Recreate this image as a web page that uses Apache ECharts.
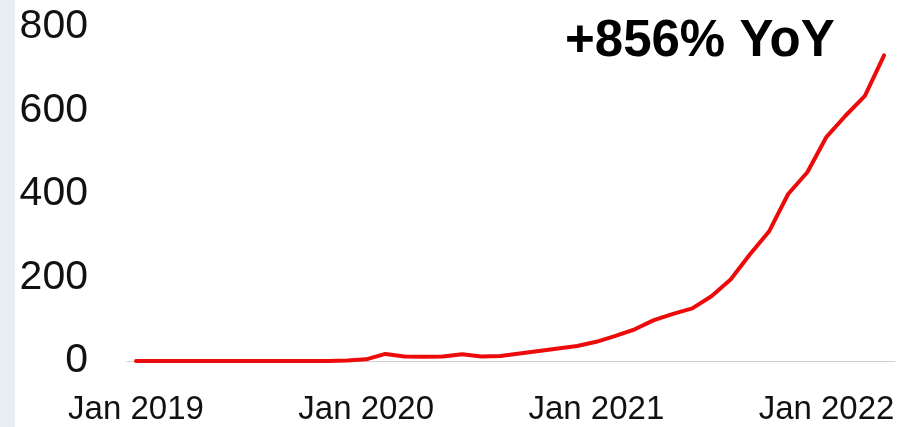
<!DOCTYPE html>
<html>
<head>
<meta charset="utf-8">
<script src="https://cdn.jsdelivr.net/npm/echarts@6/dist/echarts.min.js"></script>
<style>
  html, body { margin: 0; padding: 0; background: #fff; }
  #chart { width: 907px; height: 427px; }
</style>
</head>
<body>
<div id="chart"></div>
<script>
// monthly, Jan 2019 .. Apr 2022
const months = [
  'Jan 2019','Feb 2019','Mar 2019','Apr 2019','May 2019','Jun 2019','Jul 2019','Aug 2019','Sep 2019','Oct 2019','Nov 2019','Dec 2019',
  'Jan 2020','Feb 2020','Mar 2020','Apr 2020','May 2020','Jun 2020','Jul 2020','Aug 2020','Sep 2020','Oct 2020','Nov 2020','Dec 2020',
  'Jan 2021','Feb 2021','Mar 2021','Apr 2021','May 2021','Jun 2021','Jul 2021','Aug 2021','Sep 2021','Oct 2021','Nov 2021','Dec 2021',
  'Jan 2022','Feb 2022','Mar 2022','Apr 2022'
];
const values = [
  0, 0, 0, 0, 0, 0, 0, 0, 0, 0, 0, 1,
  4, 17, 11, 10, 11, 16, 11, 12, 18, 24, 30, 36,
  46, 60, 76, 98, 113, 126, 155, 195, 255, 310, 400, 452,
  537, 588, 635, 732
];
const yTicks = [0, 200, 400, 600, 800];
const xTickIdx = [0, 12, 24, 36];
const annotation = '+856% YoY';

const chart = echarts.init(document.getElementById('chart'));

let option = {
  animation: false,
  backgroundColor: '#fff',
  grid: { left: 127, right: 12, top: 27, bottom: 66 },
  xAxis: {
    type: 'value',
    min: -0.47,
    max: 39.57,
    axisLine: { show: true, lineStyle: { color: '#cfcfcf', width: 1 } },
    axisTick: { show: false },
    splitLine: { show: false },
    axisLabel: {
      customValues: xTickIdx,
      formatter: v => months[v],
      color: '#111',
      fontSize: 33,
      fontFamily: 'Liberation Sans, Arial, sans-serif',
      margin: 32
    }
  },
  yAxis: {
    type: 'value',
    min: 0,
    max: 800,
    interval: 200,
    axisLine: { show: false },
    axisTick: { show: false },
    splitLine: { show: false },
    axisLabel: {
      customValues: yTicks,
      color: '#111',
      fontSize: 41,
      fontFamily: 'Liberation Sans, Arial, sans-serif',
      margin: 39
    }
  },
  graphic: [
    { type: 'rect', left: 0, top: 0, shape: { width: 15, height: 427 }, style: { fill: '#e9eef3' }, z: -1 },
    {
      type: 'text', left: 565, top: 16,
      style: { text: annotation, fill: '#000', font: 'bold 51px "Liberation Sans", Arial, sans-serif' }
    }
  ],
  series: [{
    type: 'line',
    data: values.map((v, i) => [i, v]),
    showSymbol: false,
    lineStyle: { color: '#ec0a0a', width: 4, cap: 'round', join: 'round' }
  }]
};

chart.setOption(option);
</script>
</body>
</html>
